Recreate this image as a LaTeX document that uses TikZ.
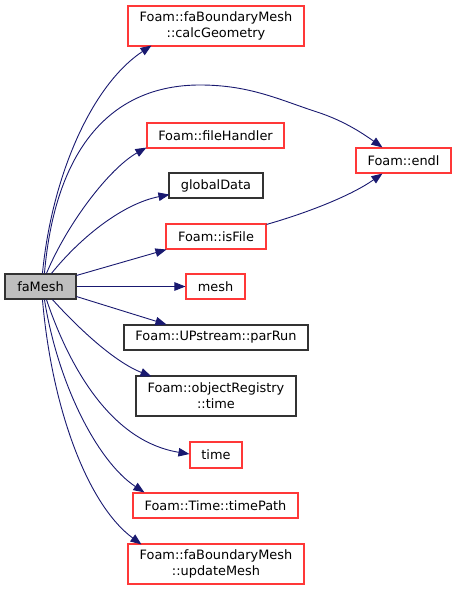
\documentclass[tikz,border=0pt]{standalone}
\usepackage{fontspec}
\setmainfont{DejaVu Sans}
\usetikzlibrary{arrows.meta,calc}
\definecolor{edgeblue}{HTML}{191970}
\definecolor{redbox}{HTML}{FF3838}
\definecolor{graybox}{HTML}{BFBFBF}
\tikzset{
  box/.style={draw, line width=1.1pt, inner sep=0pt, align=center, font=\fontsize{12.9}{16}\selectfont},
  redn/.style={box, draw=redbox},
  blackn/.style={box, draw=black!80},
  curn/.style={box, draw=black!80, fill=graybox},
  edge/.style={draw=edgeblue, line width=0.9pt, -{Triangle[length=11pt,width=8.5pt]}, fill=none},
}
\begin{document}
\begin{tikzpicture}[x=1pt,y=-1pt]
\useasboundingbox (0,0) rectangle (456,591);
\node[curn, minimum width=71pt, minimum height=25pt] (fa) at (40.5,286.5) {faMesh};
\node[redn, minimum width=176pt, minimum height=40pt] (calc) at (216,26) {Foam::faBoundaryMesh\\::calcGeometry};
\node[redn, minimum width=137pt, minimum height=25pt] (fh) at (215.5,135.5) {Foam::fileHandler};
\node[blackn, minimum width=94pt, minimum height=25pt] (gd) at (216,185.5) {globalData};
\node[redn, minimum width=95pt, minimum height=25pt] (endl) at (403.5,160.5) {Foam::endl};
\node[redn, minimum width=100pt, minimum height=25pt] (isf) at (216,236.5) {Foam::isFile};
\node[redn, minimum width=59pt, minimum height=25pt] (mesh) at (215.5,286.5) {mesh};
\node[blackn, minimum width=184pt, minimum height=25pt] (par) at (216,337.5) {Foam::UPstream::parRun};
\node[blackn, minimum width=160pt, minimum height=40pt] (objt) at (216,396) {Foam::objectRegistry\\::time};
\node[redn, minimum width=52pt, minimum height=26pt] (time) at (216,455) {time};
\node[redn, minimum width=165pt, minimum height=25pt] (tp) at (215.5,505.5) {Foam::Time::timePath};
\node[redn, minimum width=176pt, minimum height=40pt] (upd) at (216,564) {Foam::faBoundaryMesh\\::updateMesh};

% faMesh -> calcGeometry
\draw[edge] ($(fa.north west)+(38,0)$) .. controls (52,175) and (92,85) .. ($(calc.south west)+(24,-1)$);
% faMesh -> endl
\draw[edge] ($(fa.north west)+(40,0)$) .. controls (55,150) and (110,85) .. (200,85)
  .. controls (250,85) and (280,100) .. (317,112)
  .. controls (345,121) and (365,135) .. ($(endl.north west)+(27,0)$);
% faMesh -> fileHandler
\draw[edge] ($(fa.north west)+(42,0)$) .. controls (68,222) and (110,168) .. ($(fh.south west)+(0,-1)$);
% faMesh -> globalData
\draw[edge] ($(fa.north west)+(47,0)$) .. controls (80,238) and (122,204) .. ($(gd.south west)+(1,-4)$);
% faMesh -> isFile
\draw[edge] ($(fa.north east)+(0,2)$) -- ($(isf.south west)+(1,0)$);
% isFile -> endl
\draw[edge] ($(isf.north east)+(0,1)$) .. controls (310,212) and (352,195) .. ($(endl.south west)+(27,0)$);
% faMesh -> mesh
\draw[edge] (fa.east) -- (mesh.west);
% faMesh -> parRun
\draw[edge] ($(fa.south east)+(0,-3)$) -- ($(par.north west)+(43,0)$);
% faMesh -> objectRegistry::time
\draw[edge] ($(fa.south west)+(48,0)$) .. controls (80,330) and (115,362) .. ($(objt.north west)+(16,1)$);
% faMesh -> time
\draw[edge] ($(fa.south west)+(42,0)$) .. controls (72,375) and (115,442) .. ($(time.west)+(0,-1)$);
% faMesh -> timePath
\draw[edge] ($(fa.south west)+(40,0)$) .. controls (58,385) and (98,462) .. ($(tp.north west)+(12,0)$);
% faMesh -> updateMesh
\draw[edge] ($(fa.south west)+(38,0)$) .. controls (52,410) and (88,505) .. ($(upd.north west)+(14,1)$);
\end{tikzpicture}
\end{document}
